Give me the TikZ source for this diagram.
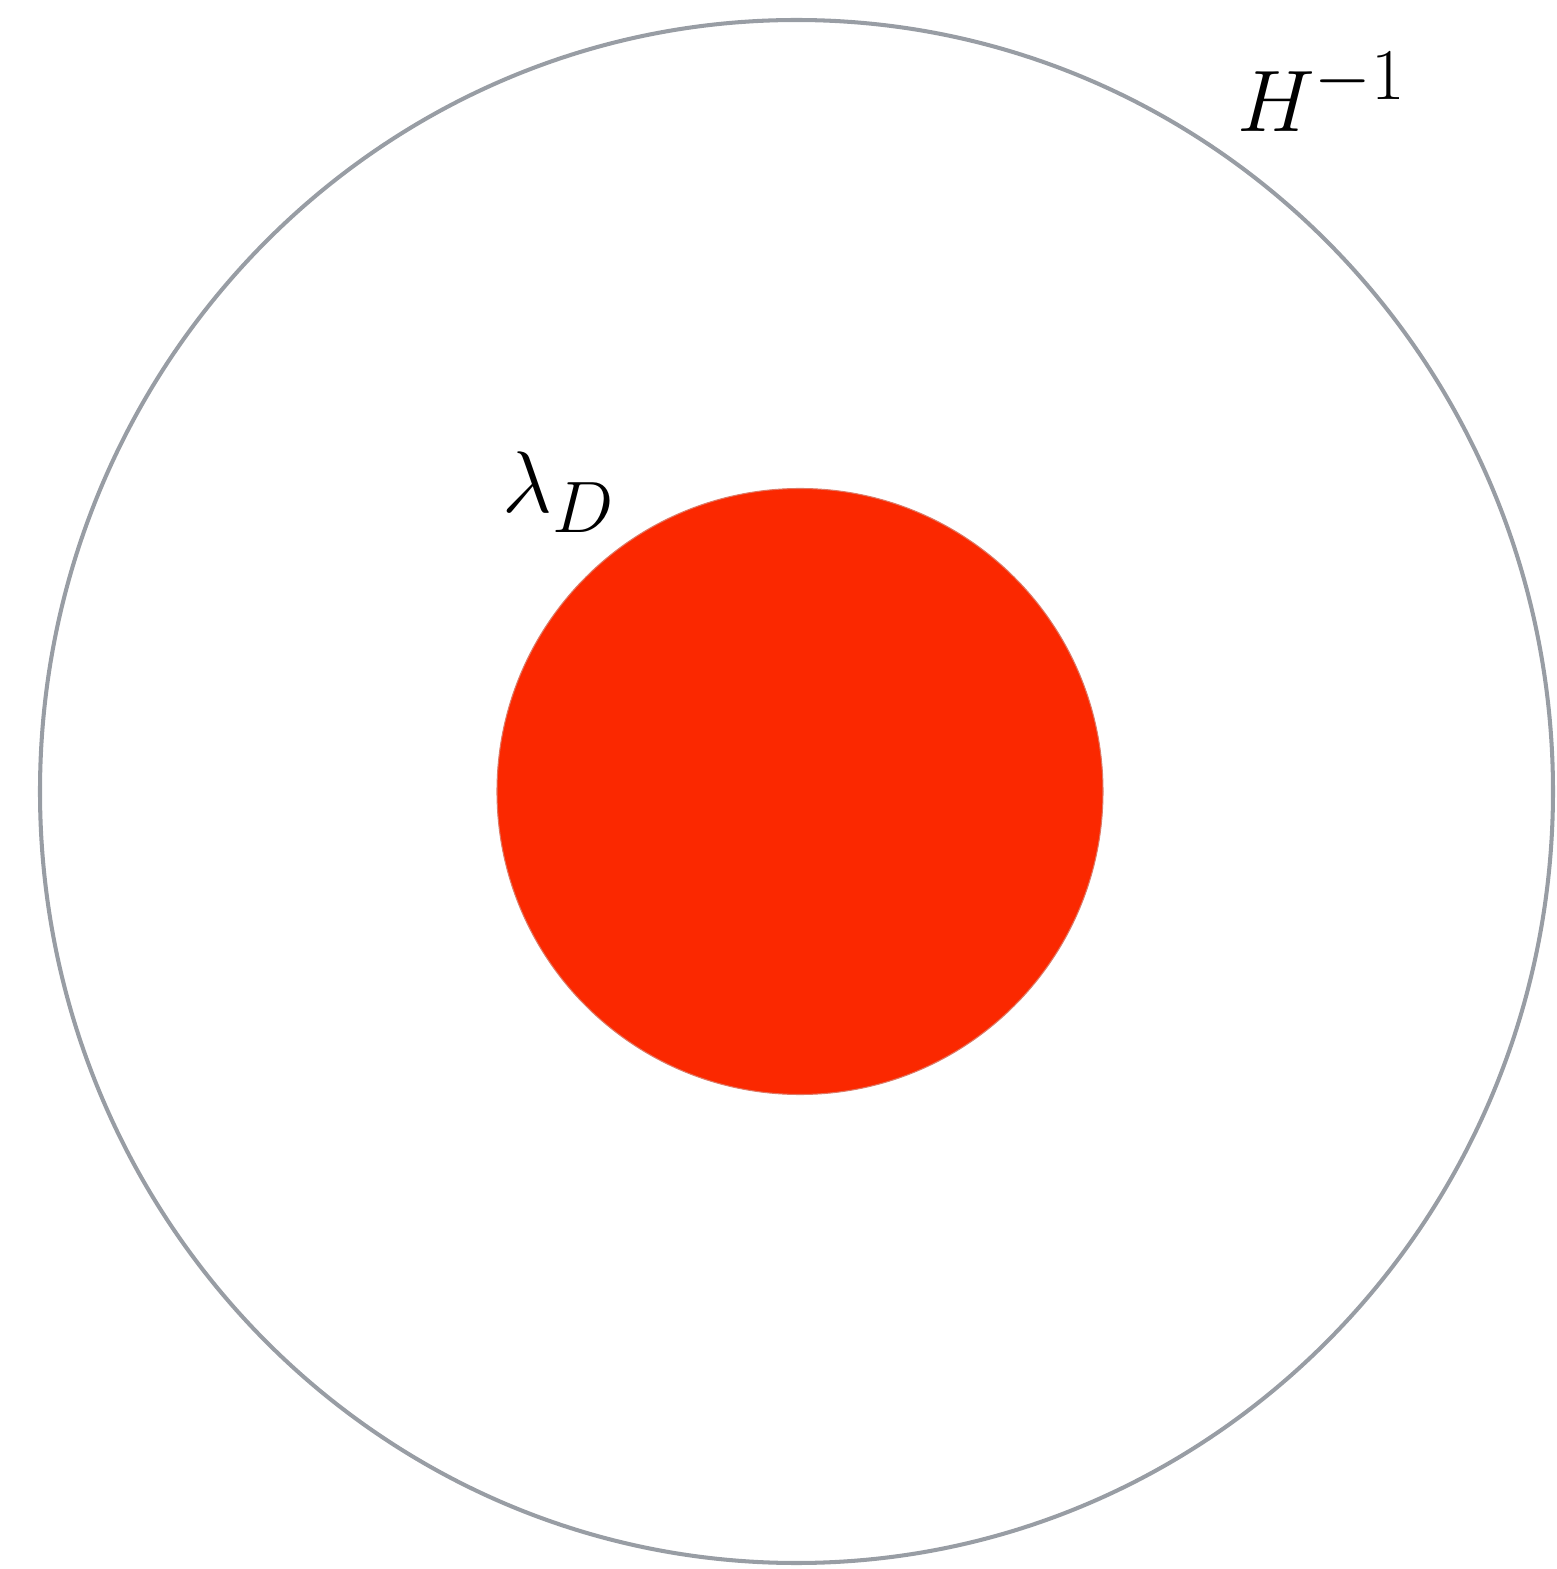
\documentclass[tikz,border=0pt]{standalone}
\usetikzlibrary{shapes.geometric}
\definecolor{hubbleGray}{RGB}{152,157,164}
\definecolor{debyeRed}{RGB}{251,40,0}

\begin{document}
\begin{tikzpicture}[
      horizon/.style={ellipse, draw=hubbleGray, line width=1.15pt, inner sep=0pt,
                      minimum width=15.13cm, minimum height=15.43cm},
      sphere/.style={circle, draw=debyeRed!80!black!60, fill=debyeRed, line width=0.3pt,
                     inner sep=0pt, minimum size=6.06cm},
      lbl/.style={inner sep=0pt, font=\fontsize{30}{33}\selectfont}]
      \useasboundingbox (0,0) rectangle (15.57,15.69);
      \node[horizon] (hubble) at (7.965,7.775) {};
      \node[sphere] (debye) at (8.00,7.775) {};
      \node[lbl] (hlabel) at (13.22,14.77) {$H^{-1}$};
      \node[lbl] (dlabel) at (5.59,10.77) {$\lambda_D$};
    \end{tikzpicture}
\end{document}
